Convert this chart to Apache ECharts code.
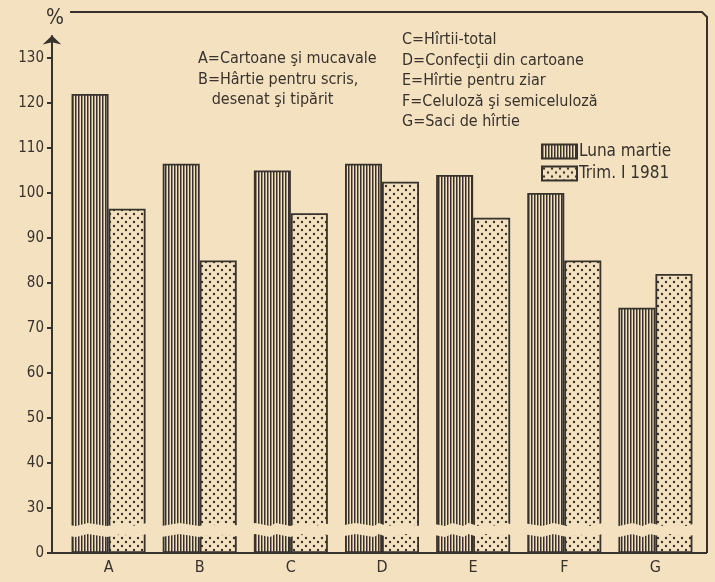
<!DOCTYPE html>
<html><head><meta charset="utf-8">
<script src="https://cdn.jsdelivr.net/npm/echarts@6/dist/echarts.min.js"></script>
<style>html,body{margin:0;padding:0;background:#f4e1c0}#c{width:715px;height:582px}</style>
</head><body><div id="c"></div>
<script>
const categories = ['A','B','C','D','E','F','G'];
const lunaMartie = [122, 106.5, 105, 106.5, 104, 100, 74.5];
const trimI1981  = [96.5, 85, 95.5, 102.5, 94.5, 85, 82];
const seriesNames = ['Luna martie', 'Trim. I 1981'];
const yTicks = [0, 30, 40, 50, 60, 70, 80, 90, 100, 110, 120, 130];
const notesLeft = ['A=Cartoane şi mucavale', 'B=Hârtie pentru scris,', '   desenat şi tipărit'];
const notesRight = ['C=Hîrtii-total', 'D=Confecţii din cartoane', 'E=Hîrtie pentru ziar', 'F=Celuloză şi semiceluloză', 'G=Saci de hîrtie'];

const BG = '#f4e1c0', INK = '#37322c';
const FONT = "'DejaVu Sans Condensed','Liberation Sans Narrow',sans-serif";

function stripes(){
  const c=document.createElement('canvas'); c.width=3; c.height=6;
  const x=c.getContext('2d');
  x.fillStyle=BG; x.fillRect(0,0,3,6);
  x.fillStyle=INK; x.fillRect(0,0,1,6);
  x.fillStyle='rgba(55,50,44,0.5)'; x.fillRect(1,0,1,6);
  return c;
}
function dots(){
  const c=document.createElement('canvas'); c.width=8; c.height=8;
  const x=c.getContext('2d');
  x.fillStyle=BG; x.fillRect(0,0,8,8);
  x.fillStyle=INK;
  x.beginPath(); x.arc(2,2,1.2,0,Math.PI*2); x.fill();
  x.beginPath(); x.arc(6,6,1.2,0,Math.PI*2); x.fill();
  return c;
}

const chart = echarts.init(document.getElementById('c'), null, {renderer:'canvas'});
const noteText = (arr, left, top) => arr.map((t,i)=>({
  type:'text', left:left, top: top + i*20.5,
  style:{text:t, font:"16px "+FONT, fill:INK}
}));

chart.setOption({
  backgroundColor: BG,
  animation:false,
  grid:{left:63, right:14, top:35.5, bottom:29},
  legend:{
    left:536, top:138, orient:'vertical', itemWidth:35, itemHeight:14, itemGap:5,
    icon:'rect',
    textStyle:{fontFamily:FONT, fontSize:17, color:INK, padding:[0,0,0,-3]},
    data: seriesNames
  },
  xAxis:{
    type:'category', data:categories,
    axisLine:{lineStyle:{color:INK, width:2}},
    axisTick:{show:false},
    axisLabel:{color:INK, fontFamily:FONT, fontSize:16, margin:7}
  },
  yAxis:{
    type:'value', min:0, max:135, interval:10, offset:11,
    name:'%', nameLocation:'end', nameGap:6,
    nameTextStyle:{color:INK, fontFamily:FONT, fontSize:21, align:'center', padding:[0,0,0,6]},
    breaks:[{start:4, end:26.5, gap:2.5}],
    breakArea:{show:true, itemStyle:{color:BG, borderColor:INK, borderWidth:0, opacity:1}, zigzagAmplitude:1.5},
    splitLine:{show:false},
    axisLine:{show:true, lineStyle:{color:INK, width:2}, symbol:['none','arrow'], symbolSize:[14,9]},
    axisTick:{show:true, inside:false, length:5, lineStyle:{color:INK, width:2}, customValues:yTicks},
    axisLabel:{color:INK, fontFamily:FONT, fontSize:15, margin:8, customValues:yTicks}
  },
  series:[
    {name:seriesNames[0], type:'bar', data:lunaMartie, barWidth:37, barGap:'0%',
     itemStyle:{color:{image:stripes(), repeat:'repeat'}, borderColor:INK, borderWidth:1.8}},
    {name:seriesNames[1], type:'bar', data:trimI1981, barWidth:37, barGap:'0%',
     itemStyle:{color:{image:dots(), repeat:'repeat'}, borderColor:INK, borderWidth:1.8}}
  ],
  graphic: [
    {type:'polyline', shape:{points:[[70,12],[702,12],[707,17],[707,553]]}, style:{stroke:INK, lineWidth:2, fill:null}},
    {type:'line', shape:{x1:52,y1:553,x2:63,y2:553}, style:{stroke:INK, lineWidth:2}},
    {type:'line', shape:{x1:701,y1:553,x2:707,y2:553}, style:{stroke:INK, lineWidth:2}},
    {type:'line', shape:{x1:52,y1:515,x2:52,y2:545}, style:{stroke:INK, lineWidth:2}, z:200},
    ...noteText(notesLeft, 198, 51),
    ...noteText(notesRight, 402, 32)
  ]
});
</script></body></html>
